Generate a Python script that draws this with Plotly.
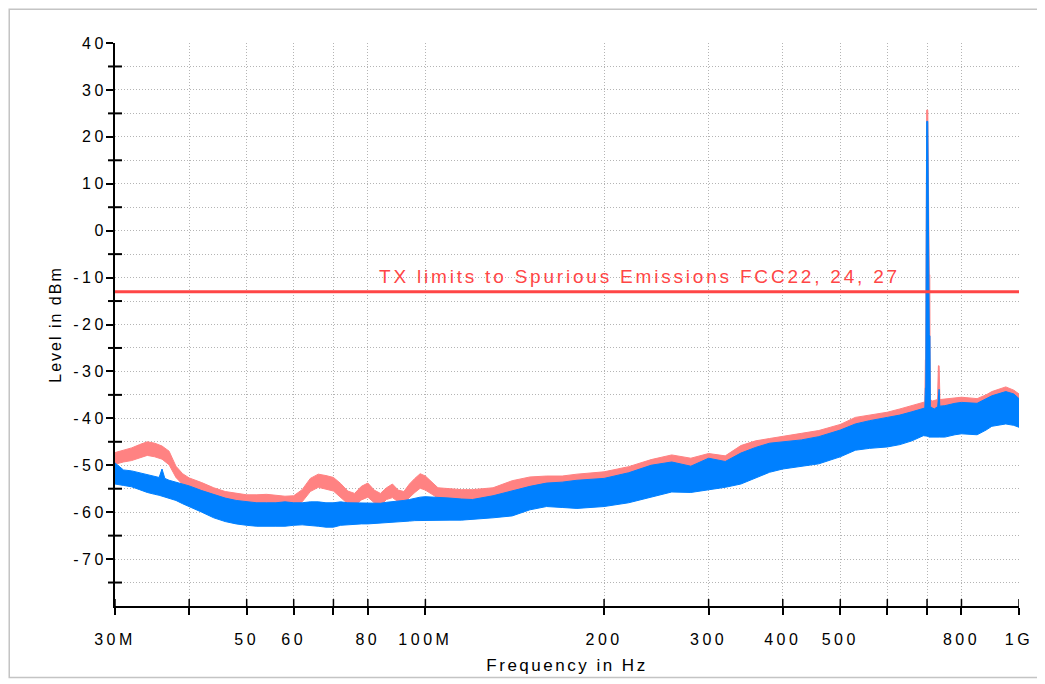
import math
import plotly.graph_objects as go

# ---------------- data (MHz / dBm) ----------------
S_FREQ = [30, 31, 32, 33, 34, 35, 36, 37, 38, 39, 40, 42, 44, 46, 48, 50,
          52, 54, 56, 58, 60, 62, 64, 66, 68, 70, 72, 74, 76, 78, 80, 82, 84, 86, 88, 90,
          92, 94, 96, 98, 100, 105, 110, 115, 120, 130, 140, 150, 160, 170, 180, 190, 200,
          220, 240, 260, 280, 300, 320, 340, 360, 380, 400, 430, 460, 500, 530, 560, 600,
          630, 660, 690, 694, 695.5, 696.5, 697.5, 699, 702, 704, 706, 707.5, 708.5, 715,
          720, 729, 731.5, 733.5, 736, 750, 780, 800, 850, 880, 900, 950, 980, 1000]
S_TOP = [-47.3, -46.8, -46.3, -45.6, -45.0, -45.3, -45.9, -47.0, -50.2, -51.8, -52.7, -53.7,
         -54.8, -55.6, -56.0, -56.3,
         -56.3, -56.2, -56.4, -56.6, -56.5, -55.2, -52.8, -51.9, -52.2, -52.6, -53.9, -55.5,
         -56.0, -54.5, -53.8, -55.3, -56.0, -54.8, -54.0, -55.3,
         -55.6, -54.0, -52.8, -51.8, -52.3, -54.8, -55.0, -55.2, -55.2, -54.8, -53.3, -52.5,
         -52.3, -52.3, -51.9, -51.6, -51.4,
         -50.3, -48.8, -47.8, -48.5, -47.5, -48.0, -45.8, -44.8, -44.3, -43.9, -43.2, -42.6,
         -41.3, -39.8, -39.3, -38.7,
         -38.0, -37.3, -36.6, -36.5, -27.5, -27.5, -5.0, 25.7, 25.7, -5.0, -9.4, -9.4, -36.0,
         -36.3,
         -36.2, -36.0, -28.8, -28.8, -36.0, -35.9, -35.6, -35.5, -35.8, -35.0, -34.3, -33.3,
         -34.0, -34.8]
S_BOT = [-49.8, -49.3, -49.0, -48.4, -47.9, -48.2, -48.7, -49.9, -52.6, -54.1, -54.9, -56.0,
         -56.8, -57.6, -58.2, -58.6,
         -58.7, -58.7, -58.8, -58.9, -58.7, -57.8, -55.6, -54.7, -55.1, -55.5, -56.8, -58.2,
         -58.6, -57.4, -56.8, -58.0, -58.6, -57.3, -56.9, -57.8,
         -58.0, -56.8, -55.8, -54.9, -55.3, -57.0, -57.2, -57.4, -57.5, -57.2, -56.2, -55.0,
         -54.8, -55.0, -54.5, -54.2, -54.0,
         -53.0, -51.5, -50.5, -51.0, -50.2, -50.5, -48.5, -47.5, -47.0, -46.6, -46.0, -45.4,
         -44.0, -42.5, -42.0, -41.4,
         -40.7, -40.0, -39.2, -39.2, -39.2, -39.2, -39.2, -39.2, -39.2, -39.2, -39.2, -39.2,
         -39.0, -39.0,
         -38.9, -38.7, -38.7, -38.7, -38.6, -38.5, -38.2, -38.2, -38.5, -37.7, -37.0, -36.0,
         -36.7, -37.5]

B_FREQ = [30, 31, 32, 33, 34, 35, 35.6, 36, 36.4, 37, 38, 39, 40, 42, 44, 46, 48, 50,
          52, 54, 56, 58, 60, 62, 64, 66, 68, 70, 72, 74, 76, 78, 80, 82, 84, 86, 88, 90,
          92, 94, 96, 98, 100, 105, 110, 115, 120, 130, 140, 150, 160, 170, 180, 190, 200,
          220, 240, 260, 280, 300, 320, 340, 360, 380, 400, 430, 460, 500, 530, 560, 600,
          630, 660, 690, 694, 695.5, 696.5, 697.5, 699, 702, 704.5, 706, 708, 709, 715,
          720, 729.5, 731.5, 733.5, 735.5, 750, 780, 800, 850, 880, 900, 950, 980, 1000]
B_TOP = [-49.5, -51.0, -51.2, -51.6, -52.0, -52.4, -52.6, -50.8, -52.8, -53.2, -53.6, -54.0,
         -54.4, -55.4, -56.3, -57.0, -57.5, -57.8,
         -58.0, -58.0, -58.0, -57.8, -58.0, -58.0, -57.8, -57.8, -58.0, -58.0, -57.8, -58.0,
         -58.0, -58.0, -58.0, -58.1, -58.1, -57.9, -57.8, -57.6,
         -57.5, -57.3, -57.0, -56.8, -56.7, -56.8, -57.0, -57.2, -57.3, -56.5, -55.5, -54.5,
         -53.8, -53.6, -53.2, -53.0, -52.8,
         -51.6, -50.0, -49.3, -50.2, -48.5, -49.2, -47.4, -46.2, -45.3, -45.0, -44.6, -43.9,
         -42.5, -41.2, -40.5, -39.8,
         -39.3, -38.6, -38.0, -37.8, -33.5, -33.5, -10.0, 23.3, 23.3, -10.0, -22.2, -22.5,
         -37.5, -37.8,
         -38.0, -37.5, -33.8, -33.8, -37.4, -37.3, -36.8, -36.6, -36.8, -35.8, -35.2, -34.3,
         -34.8, -35.8]
B_BOT = [-54.0, -54.3, -54.6, -55.2, -55.8, -56.2, -56.4, -56.6, -56.8, -57.0, -57.5, -58.2,
         -58.9, -60.0, -61.2, -62.0, -62.5, -62.8,
         -63.0, -63.0, -63.0, -63.0, -62.8, -62.7, -62.8, -63.0, -63.2, -63.2, -62.8, -62.8,
         -62.6, -62.5, -62.5, -62.4, -62.4, -62.3, -62.2, -62.0,
         -62.0, -61.9, -61.8, -61.7, -61.7, -61.7, -61.7, -61.7, -61.6, -61.2, -60.8, -59.5,
         -58.8, -59.0, -59.2, -59.0, -58.8,
         -58.0, -56.8, -55.7, -55.8, -55.3, -54.7, -54.0, -52.7, -51.5, -50.8, -50.3, -49.7,
         -48.2, -46.8, -46.4, -46.1,
         -45.6, -44.8, -43.7, -43.7, -43.7, -43.7, -43.7, -43.8, -43.8, -44.0, -44.0, -44.0,
         -44.0, -44.0,
         -44.0, -44.0, -44.0, -44.0, -44.0, -44.0, -43.5, -43.3, -43.5, -42.5, -41.7, -41.2,
         -41.5, -41.9]

assert len(S_FREQ) == len(S_TOP) == len(S_BOT)
assert len(B_FREQ) == len(B_TOP) == len(B_BOT)

LIMIT_DBM = -13
LIMIT_LABEL = "TX limits to Spurious Emissions FCC22, 24, 27"

X_TICK_VALS = [30, 40, 50, 60, 70, 80, 100, 200, 300, 400, 500, 600, 700, 800, 1000]
X_TICK_TEXT = ["30M", "", "50", "60", "", "80", "100M", "200", "300", "400", "500", "", "", "800", "1G"]
Y_TICK_VALS = [40, 30, 20, 10, 0, -10, -20, -30, -40, -50, -60, -70]
Y_TICK_TEXT = ["40", "30", "20", "10", "0", "-10", "-20", "-30", "-40", "-50", "-60", "-70"]
Y_MINOR_VALS = [35, 25, 15, 5, -5, -15, -25, -35, -45, -55, -65, -75]
X_TITLE = "Frequency in Hz"
Y_TITLE = "Level in dBm"

# ---------------- styling ----------------
SALMON = "#FF8282"
BLUE = "#0080FF"
RED = "#FF4646"
GRID = "#B4B4B4"
FONT = "Liberation Sans"


def spaced(s, px):
    """wrap text in a span that widens its letter spacing (text itself unchanged)"""
    return s if s == "" else f'<span style="letter-spacing:{px}px">{s}</span>'


# the page body adds an 8px offset; the figure is sized so the plot lands where the reference has it
W, H = 1037, 676
ML, MR, MT, MB = 107, 24, 35, 74
PW, PH = W - ML - MR, H - MT - MB

fig = go.Figure()
fig.add_trace(go.Scatter(
    x=S_FREQ + S_FREQ[::-1], y=S_TOP + S_BOT[::-1],
    mode="lines", fill="toself", fillcolor=SALMON,
    line=dict(color=SALMON, width=1), hoverinfo="skip", showlegend=False))
fig.add_trace(go.Scatter(
    x=B_FREQ + B_FREQ[::-1], y=B_TOP + B_BOT[::-1],
    mode="lines", fill="toself", fillcolor=BLUE,
    line=dict(color=BLUE, width=1), hoverinfo="skip", showlegend=False))
fig.add_trace(go.Scatter(
    x=[X_TICK_VALS[0], X_TICK_VALS[-1]], y=[LIMIT_DBM, LIMIT_DBM],
    mode="lines", line=dict(color=RED, width=3), hoverinfo="skip", showlegend=False))

fig.add_annotation(
    text=spaced(LIMIT_LABEL, 2.8), xref="paper", x=0.58, yref="y", y=LIMIT_DBM,
    yanchor="bottom", xanchor="center", yshift=3, showarrow=False,
    font=dict(family=FONT, size=19, color=RED))

shapes = []
# minor y ticks crossing the axis
for v in Y_MINOR_VALS:
    shapes.append(dict(type="line", xref="paper", yref="y", x0=-7 / PW, x1=7 / PW,
                       y0=v, y1=v, line=dict(color="black", width=2)))
# upper halves of x ticks
for v in X_TICK_VALS:
    shapes.append(dict(type="line", xref="x", yref="paper", x0=v, x1=v,
                       y0=0, y1=7 / PH, line=dict(color="black", width=1.5)))
# outer frame
shapes.append(dict(type="rect", xref="paper", yref="paper",
                   x0=(1 - ML) / PW, x1=(1032 - ML) / PW,
                   y0=-(674 - (H - MB)) / PH, y1=1 + (MT - 1) / PH,
                   line=dict(color="#C4C4C4", width=1.5), layer="below"))

fig.update_layout(
    width=W, height=H,
    margin=dict(l=ML, r=MR, t=MT, b=MB, pad=0),
    paper_bgcolor="white", plot_bgcolor="white",
    font=dict(family=FONT, color="black"),
    shapes=shapes,
    xaxis=dict(
        type="log", range=[math.log10(30), math.log10(1000)],
        tickmode="array", tickvals=X_TICK_VALS,
        ticktext=[spaced(t, 3.5) for t in X_TICK_TEXT],
        ticks="outside", ticklen=7, tickwidth=1.5, tickcolor="black",
        ticklabelstandoff=11,
        showline=True, linecolor="black", linewidth=2,
        showgrid=True, gridcolor=GRID, gridwidth=1, griddash="1px,2px",
        zeroline=False, tickfont=dict(size=16, family=FONT),
        title=dict(text=spaced(X_TITLE, 2.5), font=dict(size=17, family=FONT), standoff=12),
    ),
    yaxis=dict(
        range=[-80, 40], tickmode="array", tickvals=Y_TICK_VALS,
        ticktext=[spaced(t, 3.5) for t in Y_TICK_TEXT],
        ticks="outside", ticklen=7, tickwidth=2, tickcolor="black",
        ticklabelstandoff=-4,
        showline=True, linecolor="black", linewidth=2,
        showgrid=True, gridcolor=GRID, gridwidth=1, griddash="1px,2px",
        minor=dict(tickvals=Y_MINOR_VALS, showgrid=True, gridcolor=GRID,
                   gridwidth=1, griddash="1px,2px", ticks=""),
        zeroline=False, tickfont=dict(size=16, family=FONT),
        title=dict(text=spaced(Y_TITLE, 2), font=dict(size=16, family=FONT), standoff=8),
    ),
)

fig.write_html("out.html")
